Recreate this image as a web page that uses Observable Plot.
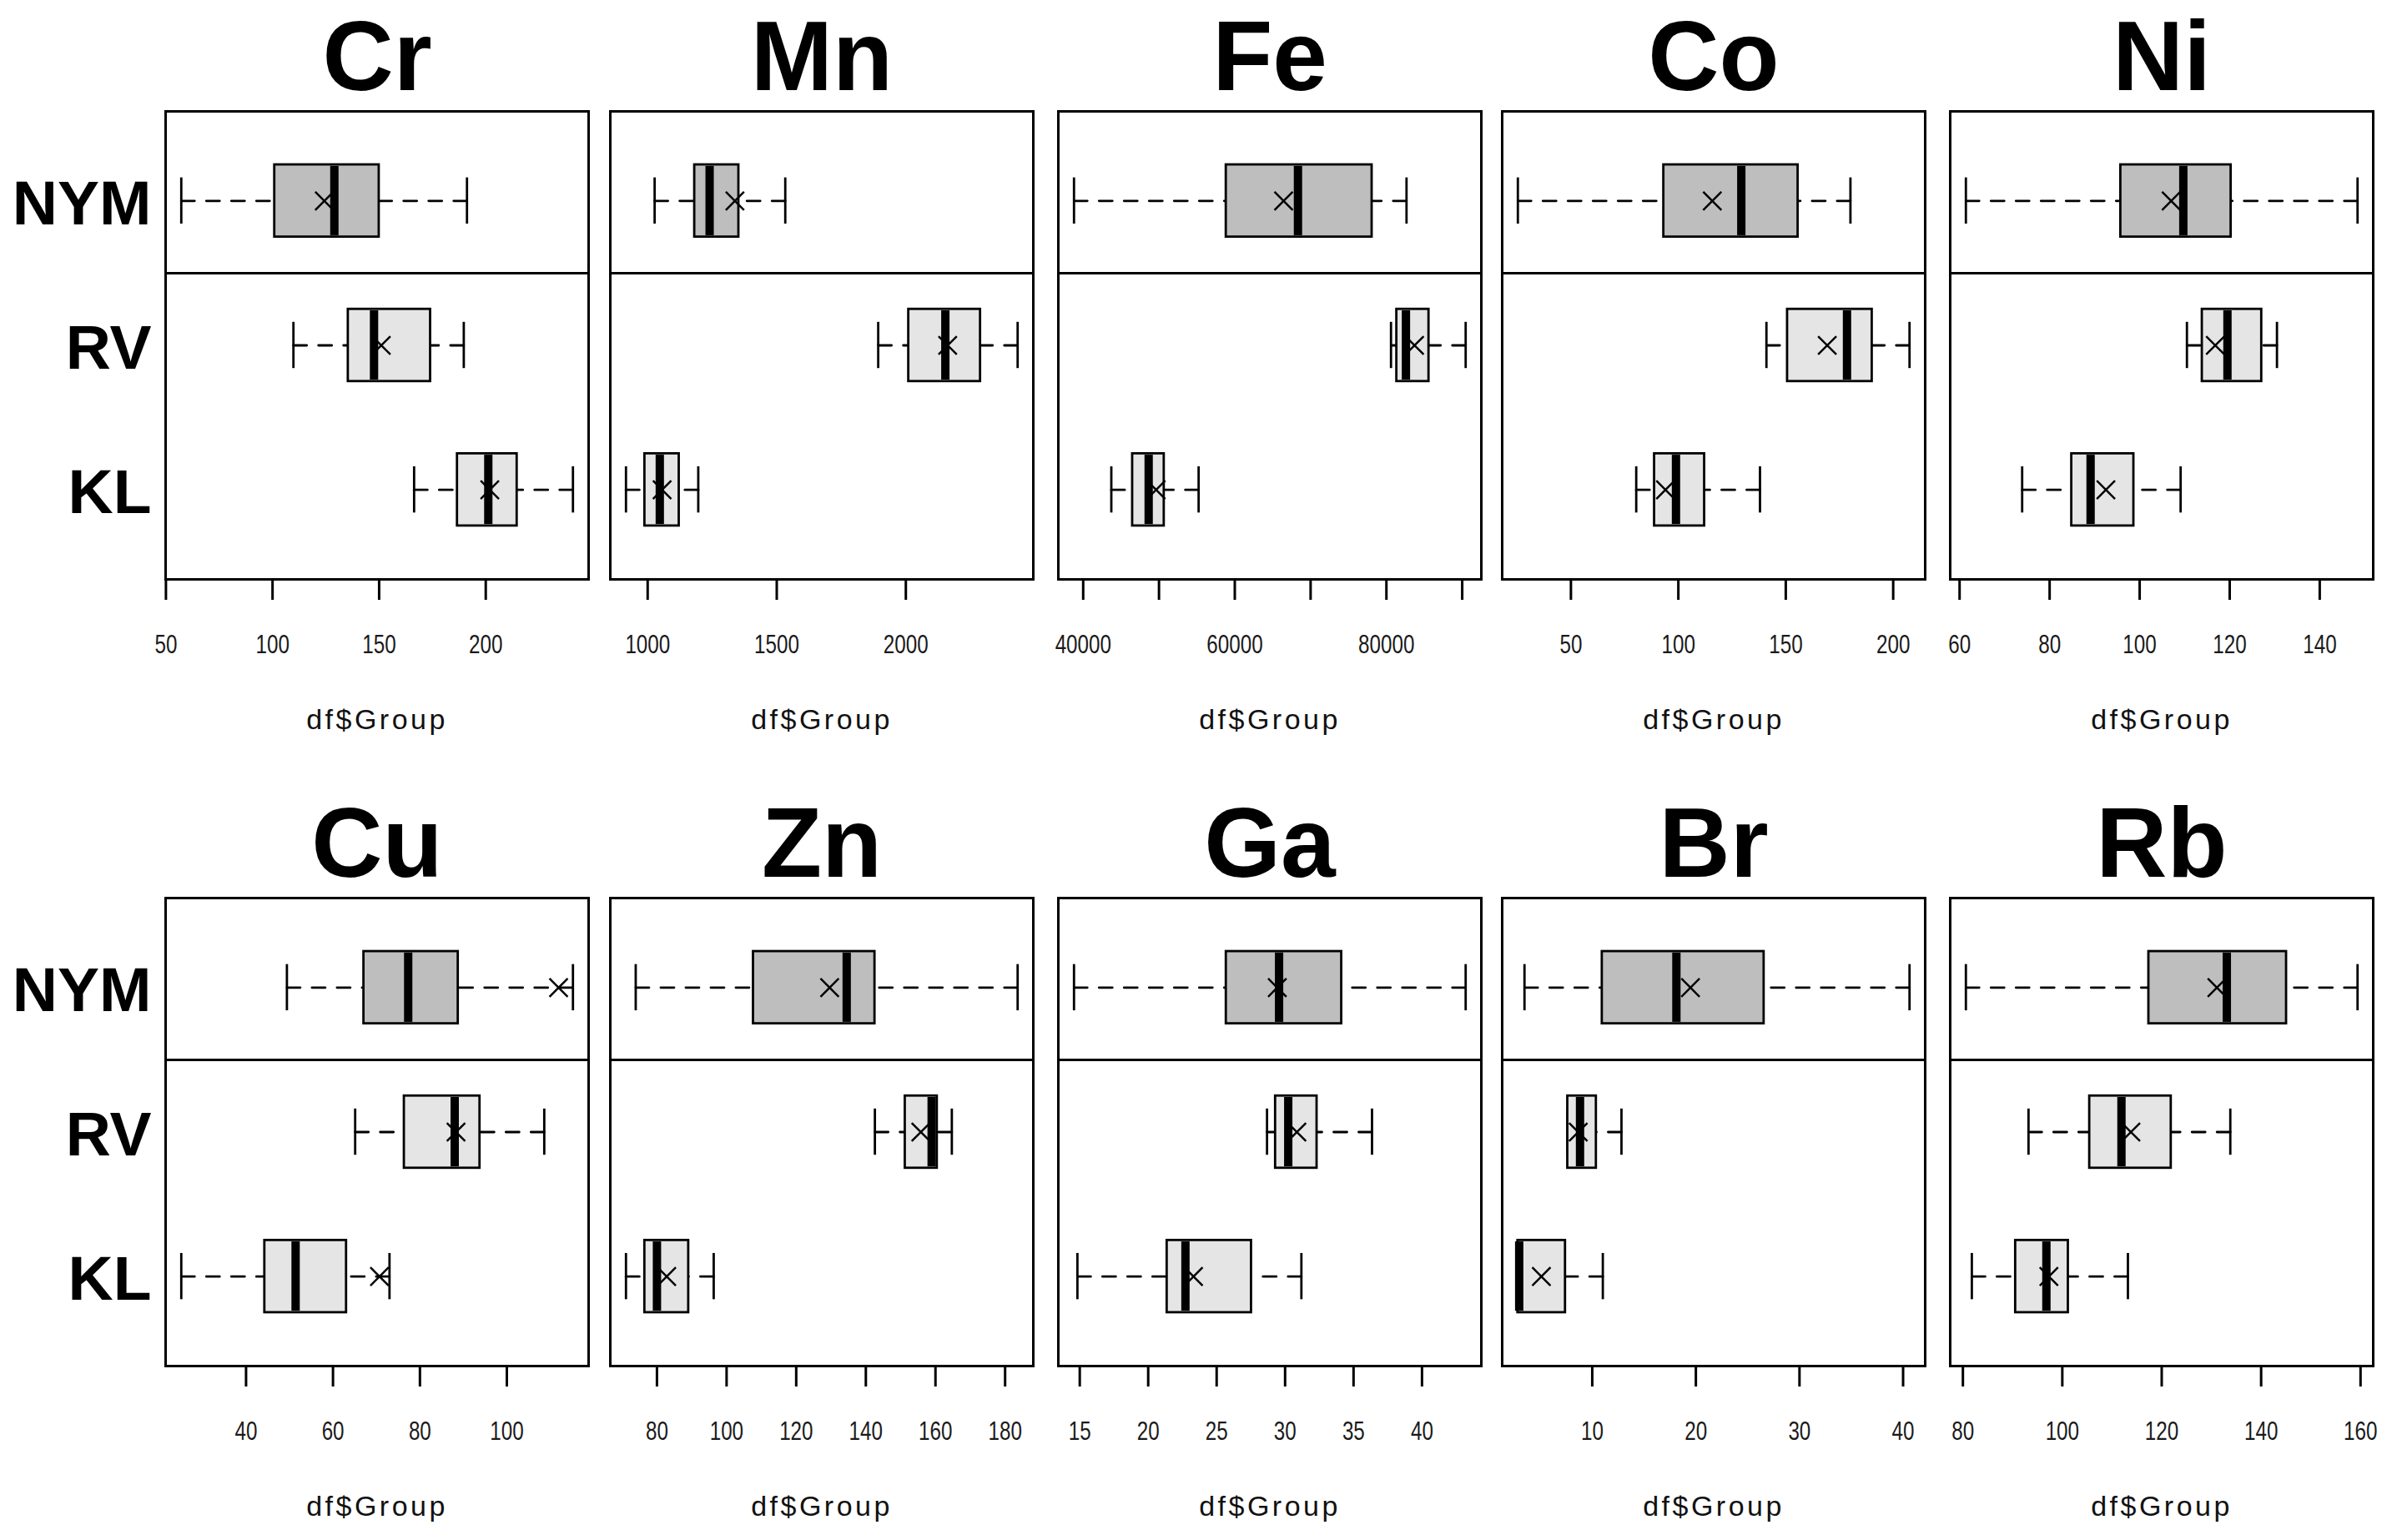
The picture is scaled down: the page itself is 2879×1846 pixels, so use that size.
<!DOCTYPE html>
<html>
<head>
<meta charset="utf-8">
<script src="https://cdn.jsdelivr.net/npm/d3@7"></script>
<script src="https://cdn.jsdelivr.net/npm/@observablehq/plot@0.6"></script>
<style>
  html, body { margin: 0; padding: 0; background: #fff; }
  #chart { position: relative; width: 2879px; height: 1846px; overflow: hidden; background: #fff; }
  #chart svg { position: absolute; }
</style>
</head>
<body>
<div id="chart"></div>
<script>
// ---------- data ----------
const elements = ["Cr", "Mn", "Fe", "Co", "Ni", "Cu", "Zn", "Ga", "Br", "Rb"];
const groups = ["NYM", "RV", "KL"];

// each row: [NYM, RV, KL]
const lowWhisker = [
  [57.2, 109.8, 166.4],
  [1027, 1893, 916],
  [38788, 80606, 43712],
  [25.3, 141.0, 80.4],
  [61.4, 110.5, 73.9],
  [49.4, 65.1, 25.1],
  [73.9, 142.6, 71.1],
  [14.58, 28.68, 14.83],
  [3.46, 7.63, 2.82],
  [80.6, 93.2, 81.8]
];
const lowerQuartile = [
  [101.0, 135.5, 186.7],
  [1182, 2011, 989],
  [58864, 81364, 46515],
  [93.2, 150.8, 88.9],
  [95.8, 113.9, 84.9],
  [67.1, 76.4, 44.3],
  [107.7, 151.3, 76.5],
  [25.70, 29.30, 21.38],
  [10.96, 7.63, 2.82],
  [117.4, 105.5, 90.6]
];
const medianValue = [
  [129.0, 147.6, 201.2],
  [1240, 2153, 1047],
  [68333, 82576, 48636],
  [129.3, 178.5, 98.9],
  [109.7, 119.5, 89.1],
  [77.3, 88.0, 51.4],
  [134.5, 158.9, 80.0],
  [29.56, 30.23, 22.72],
  [18.12, 8.82, 2.95],
  [133.1, 111.9, 96.8]
];
const upperQuartile = [
  [150.0, 174.1, 214.7],
  [1353, 2289, 1122],
  [78106, 85606, 50682],
  [155.7, 190.2, 112.2],
  [120.3, 127.1, 98.7],
  [88.8, 93.8, 63.1],
  [142.6, 160.5, 89.1],
  [34.13, 32.33, 27.54],
  [26.58, 10.39, 7.41],
  [145.1, 121.9, 101.2]
];
const highWhisker = [
  [191.2, 189.7, 240.9],
  [1533, 2433, 1196],
  [82652, 90455, 55227],
  [180.1, 207.6, 138.0],
  [148.4, 130.5, 109.1],
  [115.2, 108.6, 73.0],
  [183.6, 164.7, 96.3],
  [43.19, 36.35, 31.19],
  [40.62, 12.82, 11.02],
  [159.4, 133.8, 113.2]
];
const meanValue = [
  [124.3, 151.0, 201.9],
  [1338, 2162, 1056],
  [66439, 83712, 49621],
  [115.8, 169.3, 94.0],
  [107.0, 116.8, 92.5],
  [111.9, 88.3, 70.7],
  [129.6, 155.8, 82.8],
  [29.43, 30.86, 23.31],
  [19.48, 8.65, 5.09],
  [131.1, 113.8, 97.3]
];

const tickValues = [
  [50, 100, 150, 200],
  [1000, 1500, 2000],
  [40000, 50000, 60000, 70000, 80000, 90000],
  [50, 100, 150, 200],
  [60, 80, 100, 120, 140],
  [40, 60, 80, 100],
  [80, 100, 120, 140, 160, 180],
  [15, 20, 25, 30, 35, 40],
  [10, 20, 30, 40],
  [80, 100, 120, 140, 160]
];
const tickLabels = [
  ["50", "100", "150", "200"],
  ["1000", "1500", "2000"],
  ["40000", "", "60000", "", "80000", ""],
  ["50", "100", "150", "200"],
  ["60", "80", "100", "120", "140"],
  ["40", "60", "80", "100"],
  ["80", "100", "120", "140", "160", "180"],
  ["15", "20", "25", "30", "35", "40"],
  ["10", "20", "30", "40"],
  ["80", "100", "120", "140", "160"]
];
const axisTitle = "df$Group";

// ---------- styles / layout ----------
const groupFill = ["#bebebe", "#e5e5e5", "#e5e5e5"];
const panelLefts = [198, 730.5, 1267.5, 1800, 2337];
const panelTops = [133, 1075.5];
const panelW = 507, panelH = 561;
const mTop = 133, mBottom = 200, mRight = 20;
const boxHalf = 0.25, stapleHalf = 0.16;
const lw = 2.8;

const chart = document.getElementById("chart");

elements.forEach((el, i) => {
  const col = i % 5, row = Math.floor(i / 5);
  const mLeft = col === 0 ? 198 : 30;
  const rows = groups.map((g, k) => ({
    group: g, pos: k + 1,
    lo: lowWhisker[i][k], q1: lowerQuartile[i][k], med: medianValue[i][k],
    q3: upperQuartile[i][k], hi: highWhisker[i][k], mean: meanValue[i][k]
  }));
  const lo = d3.min(lowWhisker[i]), hi = d3.max(highWhisker[i]);
  const pad = 0.04 * (hi - lo);
  const ticks = tickValues[i], labels = tickLabels[i];

  const marks = [
    Plot.frame({stroke: "black", strokeWidth: 3}),
    Plot.ruleY([1.5], {stroke: "black", strokeWidth: 3}),
    Plot.link(rows, {x1: "lo", x2: "q1", y1: "pos", y2: "pos", stroke: "black", strokeWidth: lw, strokeDasharray: "16,14", strokeLinecap: "round"}),
    Plot.link(rows, {x1: "hi", x2: "q3", y1: "pos", y2: "pos", stroke: "black", strokeWidth: lw, strokeDasharray: "16,14", strokeLinecap: "round"}),
    Plot.ruleX(rows, {x: "lo", y1: d => d.pos - stapleHalf, y2: d => d.pos + stapleHalf, stroke: "black", strokeWidth: lw}),
    Plot.ruleX(rows, {x: "hi", y1: d => d.pos - stapleHalf, y2: d => d.pos + stapleHalf, stroke: "black", strokeWidth: lw}),
    Plot.rect(rows, {x1: "q1", x2: "q3", y1: d => d.pos - boxHalf, y2: d => d.pos + boxHalf, fill: d => groupFill[d.pos - 1], stroke: "black", strokeWidth: lw}),
    Plot.ruleX(rows, {x: "med", y1: d => d.pos - boxHalf + 0.01, y2: d => d.pos + boxHalf - 0.01, stroke: "black", strokeWidth: 10}),
    Plot.dot(rows, {x: "mean", y: "pos", symbol: "times", r: 10, stroke: "black", strokeWidth: 2.5}),
    Plot.axisX(ticks, {tickSize: 25, tickPadding: 41, strokeWidth: 3, fontSize: 31, fill: "#1a1a1a", tickFormat: d => labels[ticks.indexOf(d)], label: null}),
    Plot.text([el], {frameAnchor: "top", lineAnchor: "middle", dy: -63, fontSize: 118, fontWeight: "bold", fill: "black"}),
    Plot.text([axisTitle], {frameAnchor: "bottom", lineAnchor: "middle", dy: 169, fontSize: 34, fill: "#111"})
  ];
  if (col === 0) {
    marks.push(Plot.axisY([1, 2, 3], {tickSize: 0, tickPadding: 17, fontSize: 75, fontWeight: "bold", tickFormat: d => groups[d - 1], label: null, dy: 4}));
  }

  const svg = Plot.plot({
    width: mLeft + panelW + mRight,
    height: mTop + panelH + mBottom,
    marginLeft: mLeft, marginRight: mRight, marginTop: mTop, marginBottom: mBottom,
    x: {domain: [lo - pad, hi + pad]},
    y: {domain: [0.38, 3.62], reverse: true, axis: col === 0 ? undefined : null},
    color: {type: "identity"},
    style: {fontFamily: "'Liberation Sans', Arial, sans-serif", background: "none", overflow: "visible", maxWidth: "none"},
    marks
  });
  svg.style.left = (panelLefts[col] - mLeft) + "px";
  svg.style.top = (panelTops[row] - mTop) + "px";
  chart.appendChild(svg);

  // condensed look of the tick labels, and spaced-out axis title, as in the reference
  svg.querySelectorAll('g[aria-label="x-axis tick label"] text').forEach(t => {
    if (!t.textContent) return;
    const w = t.getComputedTextLength();
    t.setAttribute("textLength", (w * 0.78).toFixed(1));
    t.setAttribute("lengthAdjust", "spacingAndGlyphs");
  });
  svg.querySelectorAll("text").forEach(t => {
    if (t.textContent === axisTitle) t.style.letterSpacing = "3.5px";
  });
});
</script>
</body>
</html>
